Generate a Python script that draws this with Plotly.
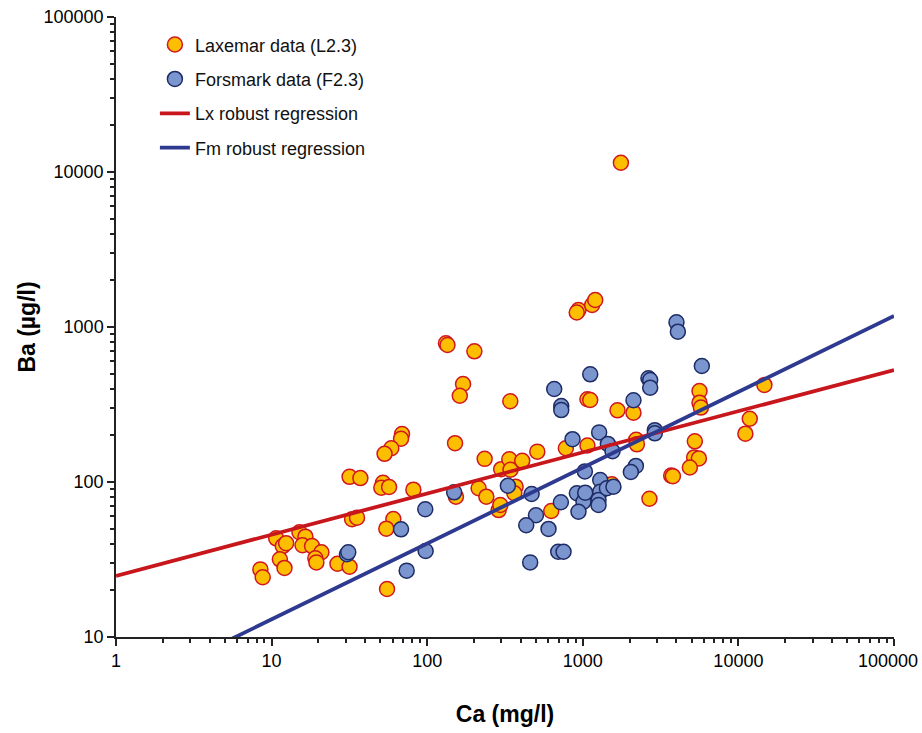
import plotly.graph_objects as go

# Laxemar data (L2.3): Ca (mg/l), Ba (ug/l)
lx_ca = [8.47, 8.77, 10.7, 11.8, 12.4, 11.3, 12.1, 15.1, 16.5, 15.8, 18.2, 20.9, 19.1, 19.4,
         26.5, 31.7, 32.9, 35.4, 31.7, 37.2, 132, 135, 201, 170, 162, 342, 68.9, 67.9, 58.8,
         53.2, 151, 234, 52.0, 50.7, 56.9, 81.5, 153, 214, 240, 299, 337, 343, 408, 510, 778,
         1071, 370, 363, 288, 295, 627, 1071, 60.6, 54.6, 55.2, 938, 914, 1148, 1202, 1757,
         1116, 1671, 2117, 2203, 2227, 5623, 5623, 5741, 14690, 11830, 11090, 5248, 5196,
         5570, 4875, 3698, 3793, 2681, 1538]
lx_ba = [27.3, 24.3, 43.3, 38.6, 40.3, 31.7, 27.9, 47.4, 44.4, 39.1, 38.6, 35.2, 32.2, 30.3,
         29.7, 28.4, 57.5, 58.9, 108, 106, 785, 765, 697, 429, 360, 332, 204, 190, 165,
         152, 178, 141, 98.9, 91.9, 92.9, 89.2, 80.4, 91.1, 80.4, 121, 140, 120, 137, 157, 165,
         172, 93.3, 84.6, 65.9, 71.1, 65.0, 342, 57.7, 50.0, 20.4, 1288, 1241, 1387, 1494, 11480,
         338, 290, 280, 187, 175, 386, 325, 302, 423, 256, 205, 183, 144,
         142, 124, 110, 109, 78, 96.6]

# Forsmark data (F2.3)
fm_ca = [30.5, 31.1, 149, 97.2, 67.9, 97.7, 73.8, 330, 469, 723, 500, 433, 602, 695, 752, 459,
         655, 727, 727, 859, 1031, 1116, 916, 1010, 938, 1036, 4000, 4083, 5821, 2642, 2711,
         2711, 2117, 1274, 1449, 1552, 2904, 2904, 2193, 2036, 1294, 1294, 1262, 1262, 1429, 1574]
fm_ba = [34.2, 35.2, 85.8, 66.7, 49.5, 35.9, 26.8, 94.6, 83.7, 74.0, 61.0, 52.6, 49.8, 35.5, 35.5, 30.3,
         398, 309, 291, 189, 117, 495, 84.6, 74.6, 64.3, 85.3, 1072, 933, 560, 467, 455,
         406, 337, 209, 176, 158, 216, 206, 127, 116, 103, 86.5, 76.5, 71.1, 91.1, 93.3]

# Robust regression lines (end points)
reg_x = [1, 100000]
lx_reg_y = [24.8, 528]
fm_reg_y = [4.21, 1178]

# Tick labels
x_tickvals = [1, 10, 100, 1000, 10000, 100000]
x_ticktext = ["1", "10", "100", "1000", "10000", "100000"]
y_tickvals = [10, 100, 1000, 10000, 100000]
y_ticktext = ["10", "100", "1000", "10000", "100000"]

FONT = "Liberation Sans, Arial"

fig = go.Figure()
fig.add_trace(go.Scatter(x=lx_ca, y=lx_ba, mode="markers", name="Laxemar data (L2.3)",
                         legendgroup="a",
                         marker=dict(size=15, color="#FDBE00", line=dict(color="#D0161E", width=1.5))))
fig.add_trace(go.Scatter(x=fm_ca, y=fm_ba, mode="markers", name="Forsmark data (F2.3)",
                         legendgroup="b",
                         marker=dict(size=15, color="#7B96CE", line=dict(color="#1E2B66", width=1.5))))
fig.add_trace(go.Scatter(x=reg_x, y=lx_reg_y, mode="lines", name="Lx robust regression",
                         legendgroup="c", line=dict(color="#C8161D", width=3.8)))
fig.add_trace(go.Scatter(x=reg_x, y=fm_reg_y, mode="lines", name="Fm robust regression",
                         legendgroup="d", line=dict(color="#2E3A8F", width=3.8)))

axis_common = dict(type="log", showgrid=False, zeroline=False, showline=True,
                   linecolor="#222222", linewidth=1.5, ticks="outside", ticklen=7,
                   tickcolor="#222222", tickwidth=1.5,
                   ticklabeloverflow="allow", automargin=False,
                   tickfont=dict(family=FONT, size=18, color="black"),
                   minor=dict(ticks="outside", ticklen=4, dtick="D1", tickcolor="#222222",
                              showgrid=False))

# last x label drawn as annotation so that it stays inside the page
x_text_shown = x_ticktext[:-1] + [""]

fig.update_layout(
    width=922, height=733,
    margin=dict(l=116, r=28, t=17, b=96, autoexpand=False),
    paper_bgcolor="white", plot_bgcolor="white",
    showlegend=True,
    legend=dict(x=0.05, y=0.985, xanchor="left", yanchor="top",
                font=dict(family=FONT, size=18, color="#111111"),
                traceorder="grouped", tracegroupgap=8, bgcolor="rgba(0,0,0,0)"),
    xaxis=dict(axis_common, range=[0, 5], tickvals=x_tickvals, ticktext=x_text_shown,
               title=dict(text="<b>Ca (mg/l)</b>", standoff=36,
                          font=dict(family=FONT, size=23, color="black"))),
    yaxis=dict(axis_common, range=[1, 5], tickvals=y_tickvals, ticktext=y_ticktext,
               title=dict(text="<b>Ba (µg/l)</b>", standoff=2,
                          font=dict(family=FONT, size=23, color="black"))),
)
fig.add_annotation(x=5, y=0, xref="x", yref="paper", text=x_ticktext[-1], showarrow=False,
                   xanchor="right", yanchor="middle", xshift=26, yshift=-24,
                   font=dict(family=FONT, size=18, color="black"))

fig.write_html("out.html")
